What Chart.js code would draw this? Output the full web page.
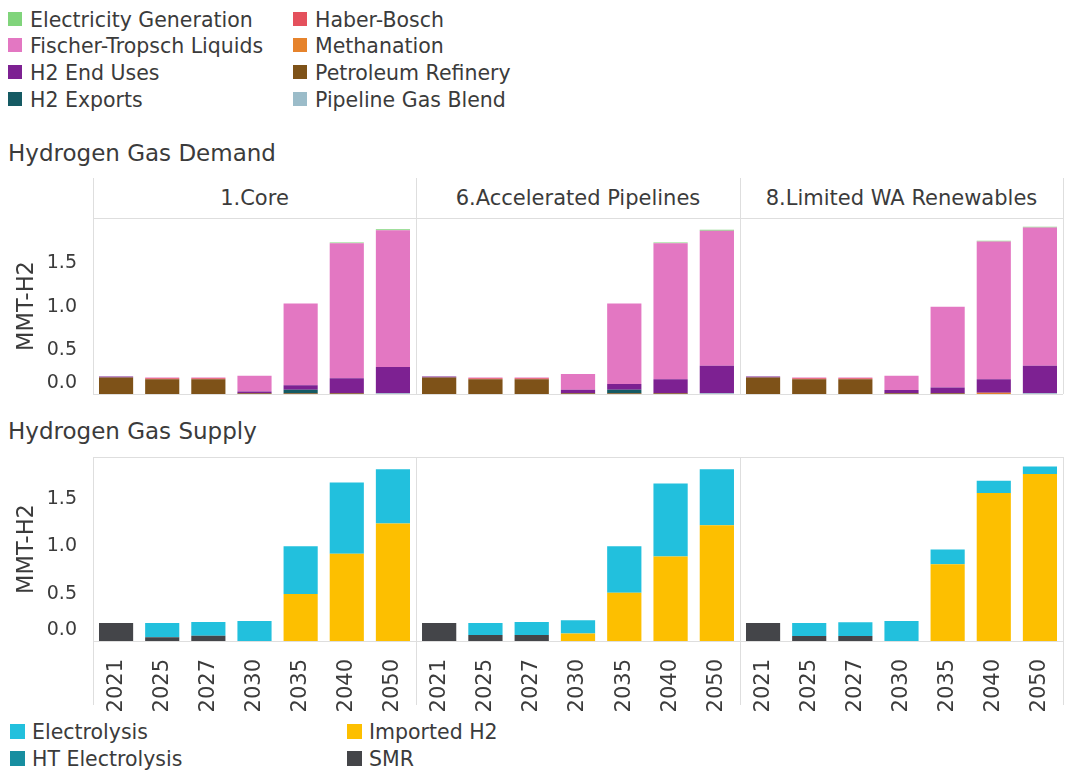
<!DOCTYPE html>
<html>
<head>
<meta charset="utf-8">
<script src="https://cdn.jsdelivr.net/npm/chart.js@4"></script>
<style>
body{margin:0;width:1068px;height:776px;background:#fff;position:relative;overflow:hidden;font-family:"DejaVu Sans",sans-serif;color:#3b3b3b}
.title{position:absolute;left:8px;font-size:23px;line-height:28px;white-space:nowrap}
.item{position:absolute;font-size:20.5px;line-height:27px;white-space:nowrap}
.sw{display:inline-block;vertical-align:middle;position:relative;top:-2px}
.head{position:absolute;top:178px;height:40px;line-height:40px;font-size:21px;text-align:center;white-space:nowrap}
.vline{position:absolute;width:1px;background:#dedede}
.hline{position:absolute;height:1px;background:#dedede}
canvas{position:absolute}
</style>
</head>
<body>
<div class="title" style="top:139px">Hydrogen Gas Demand</div>
<div class="title" style="top:417px">Hydrogen Gas Supply</div>
<div id="frame"></div>
<div id="legends"></div>
<div id="charts"></div>
<script>
// years and scenarios
const years = ['2021','2025','2027','2030','2035','2040','2050'];
const scenarios = ['1.Core','6.Accelerated Pipelines','8.Limited WA Renewables'];

// hydrogen demand, MMT-H2 (one row per scenario)
const pipelineGasBlend = [
  [0,0,0,0,0,0,0.01],
  [0,0,0,0,0,0,0.01],
  [0,0,0,0,0,0,0.01]];
const petroleumRefinery = [
  [0.19,0.17,0.17,0.01,0.01,0.01,0],
  [0.19,0.17,0.17,0.01,0.01,0.01,0],
  [0.19,0.17,0.17,0.01,0.01,0,0]];
const methanation = [
  [0,0,0,0,0,0,0],
  [0,0,0,0,0,0,0],
  [0,0,0,0,0,0.015,0]];
const haberBosch = [
  [0,0.012,0.012,0,0,0,0],
  [0,0.012,0.012,0,0,0,0],
  [0,0.012,0.012,0,0,0,0]];
const h2Exports = [
  [0,0,0,0,0.04,0,0],
  [0,0,0,0,0.04,0,0],
  [0,0,0,0,0,0,0]];
const h2EndUses = [
  [0.01,0,0,0.02,0.05,0.17,0.30],
  [0.01,0,0,0.04,0.065,0.16,0.315],
  [0.01,0,0,0.035,0.065,0.155,0.315]];
const fischerTropsch = [
  [0,0.008,0.008,0.18,0.94,1.55,1.57],
  [0,0.008,0.008,0.18,0.925,1.56,1.55],
  [0,0.008,0.008,0.165,0.925,1.58,1.585]];
const electricityGen = [
  [0,0,0,0,0,0.01,0.01],
  [0,0,0,0,0,0.01,0.01],
  [0,0,0,0,0,0.01,0.01]];

// hydrogen supply, MMT-H2
const smr = [
  [0.19,0.04,0.056,0,0,0,0],
  [0.19,0.063,0.063,0,0,0,0],
  [0.19,0.053,0.053,0,0,0,0]];
const importedH2 = [
  [0,0,0,0,0.495,0.92,1.24],
  [0,0,0,0.08,0.51,0.89,1.22],
  [0,0,0,0,0.81,1.56,1.76]];
const htElectrolysis = [
  [0,0,0,0,0,0,0],
  [0,0,0,0,0,0,0],
  [0,0,0,0,0,0,0]];
const electrolysis = [
  [0,0.15,0.144,0.21,0.505,0.75,0.57],
  [0,0.127,0.137,0.14,0.49,0.77,0.59],
  [0,0.137,0.144,0.21,0.155,0.13,0.08]];

// stacking order, bottom first
const demandSeries = [
  {name:'Pipeline Gas Blend', color:'#9bbcc9', data:pipelineGasBlend},
  {name:'Petroleum Refinery', color:'#7e5218', data:petroleumRefinery},
  {name:'Methanation', color:'#e6832c', data:methanation},
  {name:'Haber-Bosch', color:'#e4505c', data:haberBosch},
  {name:'H2 Exports', color:'#155a63', data:h2Exports},
  {name:'H2 End Uses', color:'#7d2192', data:h2EndUses},
  {name:'Fischer-Tropsch Liquids', color:'#e377c2', data:fischerTropsch},
  {name:'Electricity Generation', color:'#80d47b', data:electricityGen}
];
const supplySeries = [
  {name:'SMR', color:'#444549', data:smr},
  {name:'Imported H2', color:'#fdbf00', data:importedH2},
  {name:'HT Electrolysis', color:'#178ea0', data:htElectrolysis},
  {name:'Electrolysis', color:'#22c0dd', data:electrolysis}
];

const textColor = '#3b3b3b';
const lineColor = '#dedede';
const panelX = [93, 416, 740, 1063];

// facet frame and headers
const frame = document.getElementById('frame');
function line(cls, css){ const d=document.createElement('div'); d.className=cls; d.style.cssText=css; frame.appendChild(d); }
panelX.forEach(x=>{
  line('vline', `left:${x}px;top:178px;height:216px`);
  line('vline', `left:${x}px;top:457px;height:248px`);
});
line('hline', `left:93px;top:218px;width:971px`);
line('hline', `left:93px;top:457px;width:971px`);
scenarios.forEach((s,i)=>{
  const h=document.createElement('div');
  h.className='head';
  h.style.left=panelX[i]+'px';
  h.style.width=(panelX[i+1]-panelX[i])+'px';
  h.textContent=s;
  frame.appendChild(h);
});

// legends
const legends = document.getElementById('legends');
function legendItem(name, color, x, y, sw, gap){
  const it=document.createElement('div');
  it.className='item';
  it.style.left=x+'px'; it.style.top=y+'px';
  it.innerHTML=`<span class="sw" style="width:${sw}px;height:${sw}px;margin-right:${gap}px;background:${color}"></span>${name}`;
  legends.appendChild(it);
}
const demandLegend = ['Electricity Generation','Fischer-Tropsch Liquids','H2 End Uses','H2 Exports','Haber-Bosch','Methanation','Petroleum Refinery','Pipeline Gas Blend'];
demandLegend.forEach((n,i)=>{
  const s=demandSeries.find(d=>d.name===n);
  legendItem(n, s.color, i<4?8:293, 6.5+(i%4)*26.9, 14, 8);
});
const supplyLegend = ['Electrolysis','HT Electrolysis','Imported H2','SMR'];
supplyLegend.forEach((n,i)=>{
  const s=supplySeries.find(d=>d.name===n);
  legendItem(n, s.color, i<2?10:347, 719+(i%2)*27, 15, 7);
});

// one chart per facet
const charts = document.getElementById('charts');
function makePanel(series, idx, top, plotH, axisH, max, showYears){
  const first = idx===0;
  const left = first ? 0 : panelX[idx];
  const width = panelX[idx+1]-left;
  const cv=document.createElement('canvas');
  cv.width=width; cv.height=plotH+axisH;
  cv.style.left=left+'px'; cv.style.top=top+'px';
  charts.appendChild(cv);
  return new Chart(cv,{
    type:'bar',
    data:{
      labels:years,
      datasets:series.map(s=>({label:s.name, data:s.data[idx], backgroundColor:s.color, borderWidth:0,
        barPercentage:0.74, categoryPercentage:1}))
    },
    options:{
      responsive:false, animation:false, devicePixelRatio:1,
      layout:{padding:0},
      plugins:{legend:{display:false}, tooltip:{enabled:false}},
      scales:{
        x:{
          stacked:true,
          grid:{display:false},
          border:{display:true, color:lineColor},
          ticks:{display:showYears, autoSkip:false, minRotation:90, maxRotation:90, padding:10,
            color:textColor, font:{family:'"DejaVu Sans"', size:21}},
          afterFit:s=>{ s.height=axisH; s.paddingLeft=0; s.paddingRight=0; }
        },
        y:{
          display:first, stacked:true, min:0, max:max,
          grid:{display:false},
          border:{display:false},
          ticks:{stepSize:0.5, padding:8, color:textColor, font:{family:'"DejaVu Sans"', size:19},
            // the 0.0 label sits flush above the baseline
            callback:v=> v>1.75 ? null : (v===0 ? ['0.0',''] : v.toFixed(1))},
          title:{display:true, text:'MMT-H2', color:textColor, font:{family:'"DejaVu Sans"', size:22.5},
            padding:{top:14, bottom:0}},
          afterFit:s=>{ s.width=first ? 93 : 0; s.paddingTop=0; s.paddingBottom=0; }
        }
      }
    }
  });
}

scenarios.forEach((s,i)=>{
  makePanel(demandSeries, i, 218, 176, 30, 2.02, false);
  makePanel(supplySeries, i, 457, 184, 70, 1.94, true);
});
</script>
</body>
</html>
